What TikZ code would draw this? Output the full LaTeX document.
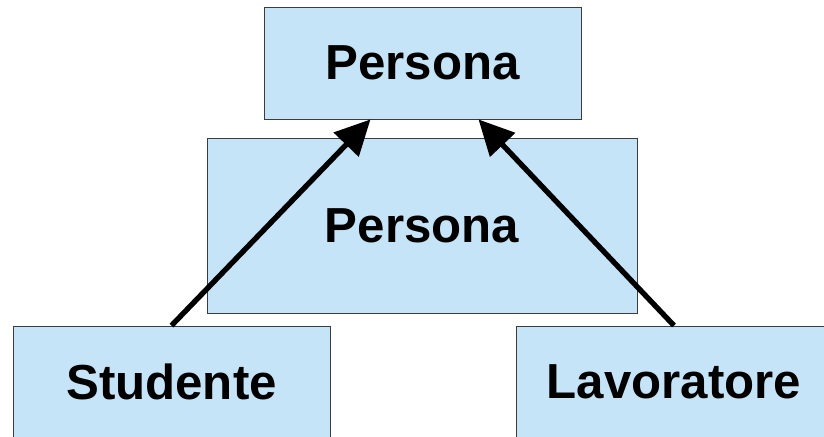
\documentclass[tikz,border=0pt]{standalone}
\usepackage{fontspec}
\setmainfont{Liberation Sans}
\usetikzlibrary{arrows.meta}
\definecolor{boxblue}{RGB}{198,228,248}
\definecolor{boxline}{RGB}{60,60,60}
\begin{document}
\begin{tikzpicture}[
  classbox/.style={draw=boxline, line width=0.6pt, fill=boxblue, inner sep=0pt,
    font=\fontsize{35}{40}\selectfont\bfseries},
  inherit/.style={line width=3.8pt, -{Triangle[length=25pt, width=24pt]}}
]
  % 画布大小（1px = 0.025cm）
  \useasboundingbox (0,0) rectangle (20.6,-10.925);

  % 1. 上方与中间的 Persona
  \node[classbox, minimum width=7.925cm, minimum height=2.8cm] (persona) at (10.5625,-1.575) {Persona};
  \node[classbox, minimum width=10.75cm, minimum height=4.375cm] (personabig) at (10.55,-5.6375) {Persona};

  % 2. 下方两个子类
  \node[classbox, minimum width=7.925cm, minimum height=2.8cm] (studente) at (4.2875,-9.55) {Studente};
  \node[classbox, minimum width=7.9cm, minimum height=2.8cm] (lavoratore) at (16.85,-9.55) {Lavoratore};

  % 3. 继承箭头
  \draw[inherit] (studente.north) -- ([xshift=-1.3cm]persona.south);
  \draw[inherit] (lavoratore.north) -- ([xshift=1.4cm]persona.south);

\end{tikzpicture}
\end{document}
